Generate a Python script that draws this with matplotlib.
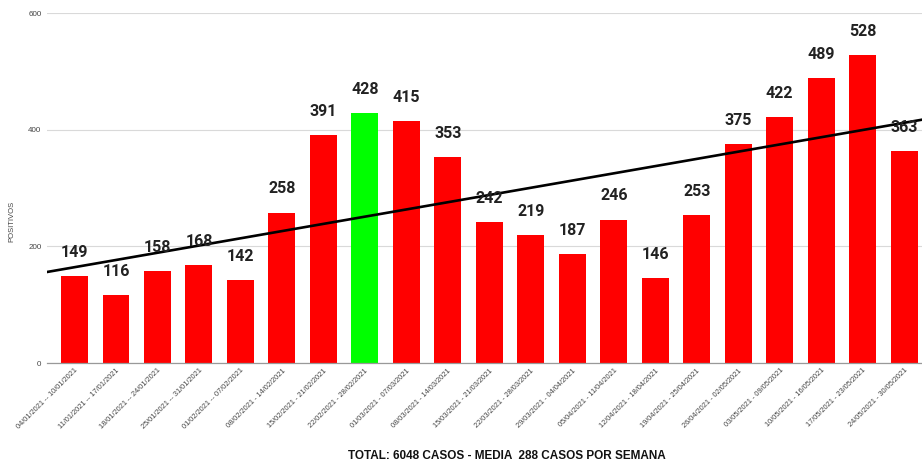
import matplotlib
matplotlib.use("Agg")
import matplotlib.pyplot as plt
import numpy as np

weeks = [
    "04/01/2021 -- 10/01/2021", "11/01/2021 -- 17/01/2021", "18/01/2021 -- 24/01/2021",
    "25/01/2021 -- 31/01/2021", "01/02/2021 -- 07/02/2021", "08/02/2021 - 14/02/2021",
    "15/02/2021 - 21/02/2021", "22/02/2021 - 28/02/2021", "01/03/2021 - 07/03/2021",
    "08/03/2021 - 14/03/2021", "15/03/2021 - 21/03/2021", "22/03/2021 - 28/03/2021",
    "29/03/2021 - 04/04/2021", "05/04/2021 - 11/04/2021", "12/04/2021 - 18/04/2021",
    "19/04/2021 - 25/04/2021", "26/04/2021 - 02/05/2021", "03/05/2021 - 09/05/2021",
    "10/05/2021 - 16/05/2021", "17/05/2021 - 23/05/2021", "24/05/2021 - 30/05/2021",
]
positivos = [149, 116, 158, 168, 142, 258, 391, 428, 415, 353, 242,
             219, 187, 246, 146, 253, 375, 422, 489, 528, 363]
highlight_index = 7
yticks = [0, 200, 400, 600]
title = "TOTAL: 6048 CASOS - MEDIA  288 CASOS POR SEMANA"

fig = plt.figure(figsize=(9.22, 4.68), dpi=100)
ax = fig.add_axes([47/922, 1-363/468, (922-47)/922, (363-13)/468])

x = np.arange(len(positivos))
colors = ["#00ff00" if i == highlight_index else "#ff0000" for i in x]
ax.bar(x, positivos, width=0.65, color=colors, zorder=2)

for xi, v in zip(x, positivos):
    ax.annotate(str(v), (xi, v), xytext=(0, 17), textcoords="offset points",
                ha="center", va="center", fontsize=11.5, fontweight="bold",
                family=["Roboto", "DejaVu Sans"], color="#222222", zorder=4)

xmin, xmax = -0.663, len(positivos) - 0.57
# trend line (linear fit)
coef = np.polyfit(x, positivos, 1)
xl = np.array([xmin, xmax])
ax.plot(xl, np.polyval(coef, xl), color="black", lw=1.9, zorder=3)

ax.set_xlim(xmin, xmax)
ax.set_ylim(0, 600)
ax.set_yticks(yticks)
ax.set_yticklabels([str(t) for t in yticks], fontsize=5.8, color="#444444",
                   family=["Liberation Sans"])
ax.yaxis.grid(True, color="#d9d9d9", lw=0.8, zorder=0)
ax.tick_params(axis="y", length=0, pad=4)
ax.set_xticks(x)
ax.set_xticklabels(weeks, rotation=45, ha="right", rotation_mode="anchor",
                   fontsize=5.3, color="#444444", family=["Liberation Sans"])
ax.tick_params(axis="x", length=0, pad=3)
for s in ["top", "right", "left"]:
    ax.spines[s].set_visible(False)
ax.spines["bottom"].set_color("#999999")
ax.spines["bottom"].set_linewidth(0.9)

fig.text(12/922, 1-221/468, "POSITIVOS", rotation=90, ha="center", va="center",
         fontsize=5.5, color="#444444", family=["Liberation Sans"])
fig.text(507/922, 1-456/468, title, ha="center", va="center", fontsize=8.5,
         fontweight="bold", color="#111111", family=["Liberation Sans"])

fig.savefig("out.png", dpi=100)
